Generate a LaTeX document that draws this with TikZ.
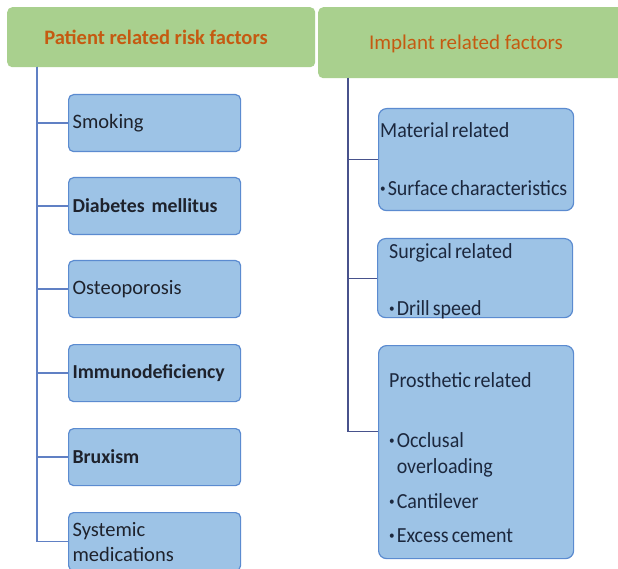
\documentclass[tikz,border=0pt]{standalone}
\usepackage{fontspec}
\setmainfont{Carlito}
\newfontfamily\narrowfont[FakeStretch=0.93]{Carlito}
\usepackage{tikz}
\usetikzlibrary{calc}
\newcommand{\tightsp}{\spaceskip=3pt plus 1pt\relax}
\tikzset{hd/.style={fill=hdgreen,rounded corners=5pt,text=hdorange,inner sep=0pt}}
\tikzset{lbox/.style={draw=bxline,fill=bxfill,line width=1.2pt,rounded corners=5pt,anchor=north west,minimum width=172pt,minimum height=57pt,text width=164pt,inner xsep=4pt,align=left,font=\fontsize{20.5}{25}\selectfont,text=txt}}
\tikzset{rbox/.style={draw=bxline,fill=bxfill,line width=1.2pt,rounded corners=8pt,anchor=north west,minimum width=195pt}}
\tikzset{rtxt/.style={anchor=north west,inner sep=0pt,align=left,text=rtx,font=\narrowfont\fontsize{21.5}{26}\selectfont\tightsp}}
\tikzset{lline/.style={draw=lnblue,line width=1.6pt}}
\tikzset{rline/.style={draw=lnnavy,line width=1.2pt}}
\definecolor{hdgreen}{RGB}{169,208,142}
\definecolor{hdorange}{RGB}{197,90,17}
\definecolor{bxfill}{RGB}{157,195,230}
\definecolor{bxline}{RGB}{91,139,208}
\definecolor{lnblue}{RGB}{96,128,196}
\definecolor{lnnavy}{RGB}{72,82,140}
\definecolor{txt}{RGB}{30,34,44}
\definecolor{rtx}{RGB}{28,40,62}
\newcommand{\bul}{\raisebox{2.5pt}{\fontsize{12}{12}\selectfont\textbullet}\hspace{2pt}}
\newcommand{\fl}{\rule{0pt}{16pt}}
\newcommand{\bfl}{\fontsize{19.8}{25}\selectfont\bfseries}

\begin{document}
\begin{tikzpicture}[x=1pt,y=-1pt]
        \useasboundingbox (0,0) rectangle (618,569);
        \fill[white] (0,0) rectangle (618,569);
        % headers
        \node[hd,minimum width=308pt,minimum height=60pt,anchor=north west] (pat) at (7,7) {};
        \node[text=hdorange,font=\fontsize{20.5}{20}\selectfont\bfseries,anchor=base] (patt) at (156,45) {Patient related risk factors};
        \node[hd,minimum width=312pt,minimum height=71pt,anchor=north west] (imp) at (318,7) {};
        \node[text=hdorange,font=\fontsize{21}{21}\selectfont] (impt) at (466,44) {Implant related factors};
        % patient factors
        \node[lbox] (smk) at (68,94) {Smoking};
        \node[lbox] (dia) at (68,177) {\bfl Diabetes mellitus};
        \node[lbox] (ost) at (68,260) {Osteoporosis};
        \node[lbox] (imm) at (68,344) {\bfl Immunodeficiency};
        \node[lbox] (brx) at (68,428) {\bfl Bruxism};
        \node[lbox,minimum height=58pt] (sys) at (68,512) {Systemic\\medications};
        \coordinate (ltop) at (37,67);
        \foreach \b in {smk,dia,ost,imm,brx,sys}
          \draw[lline] (ltop) |- (\b.west);
        % implant factors
        \node[rbox,minimum height=102pt] (mat) at (378,108) {};
        \node[rtxt] (matt) at ([shift={(2,13)}]mat.north west)
          {\fl Material related\\[32pt]\bul Surface characteristics};
        \node[rbox,minimum height=79pt] (sur) at (377,238) {};
        \node[rtxt] (surt) at ([shift={(12,4)}]sur.north west)
          {\fl Surgical related\\[31pt]\bul Drill speed};
        \node[rbox,minimum height=213pt] (pro) at (378,345) {};
        \node[rtxt] (prot) at ([shift={(11,26)}]pro.north west)
          {\fl Prosthetic related\\[34pt]\bul Occlusal\\\phantom{\bul}overloading\\[9pt]\bul Cantilever\\[8pt]\bul Excess cement};
        \coordinate (rtop) at (348,78);
        \draw[rline] (rtop) |- (mat.west);
        \draw[rline] (rtop) |- (sur.west);
        \draw[rline] (rtop) |- ([yshift=21pt]pro.west);
      \end{tikzpicture}
\end{document}
